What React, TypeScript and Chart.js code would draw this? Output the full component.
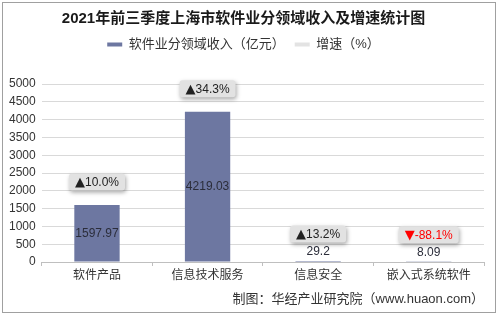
import React, { useEffect, useRef } from "react";
import { Chart, registerables } from "chart.js";

Chart.register(...registerables);

const titleText = "2021年前三季度上海市软件业分领域收入及增速统计图";
const sourceText = "制图：华经产业研究院（www.huaon.com）";
const categories = ["软件产品", "信息技术服务", "信息安全", "嵌入式系统软件"];
const revenue = [1597.97, 4219.03, 29.2, 8.09];
const growth = [10.0, 34.3, 13.2, -88.1];
const revenueLabel = "软件业分领域收入（亿元）";
const growthLabel = "增速（%）";
const yMin = 0;
const yMax = 5000;
const yStep = 500;

const FONT = "'Liberation Sans', 'Noto Sans CJK SC', sans-serif";
const BAR_COLOR = "#6d77a1";
const GROWTH_COLOR = "#e3e3e3";

const legendSpacer = {
  id: "legendSpacer",
  beforeInit(chart: any) {
    const legend = chart.legend;
    const orig = legend.fit;
    legend.fit = function () {
      orig.call(this);
      this.height += 23;
    };
  },
};

const labelPlugin = {
  id: "valueLabels",
  afterDatasetsDraw(chart: any) {
    const ctx = chart.ctx;
    const meta = chart.getDatasetMeta(0);
    ctx.save();
    meta.data.forEach((el: any, i: number) => {
      const x = el.x;
      const y = el.y;
      const base = el.base;
      const h = base - y;
      ctx.font = `12px ${FONT}`;
      ctx.textAlign = "center";
      ctx.textBaseline = "middle";
      ctx.fillStyle = "#2b2d3a";
      const valText = String(revenue[i]);
      let boxY: number;
      if (h > 30) {
        ctx.fillText(valText, x, (y + base) / 2);
        boxY = y - 23;
      } else {
        const ly = y - 9;
        ctx.fillText(valText, x, ly);
        boxY = ly - 18;
      }
      const g = growth[i];
      const neg = g < 0;
      const tri = neg ? "▼" : "▲";
      const num = g.toFixed(1) + "%";
      ctx.font = `13px 'DejaVu Sans', sans-serif`;
      const tw = ctx.measureText(tri).width;
      ctx.font = `12px ${FONT}`;
      const nw = ctx.measureText(num).width;
      const w = tw + nw + 12;
      const bh = 17;
      ctx.save();
      ctx.shadowColor = "rgba(0,0,0,0.35)";
      ctx.shadowBlur = 4;
      ctx.shadowOffsetX = 1;
      ctx.shadowOffsetY = 2;
      ctx.fillStyle = "#e2e2e2";
      ctx.beginPath();
      (ctx as any).roundRect(x - w / 2, boxY - bh / 2, w, bh, 3);
      ctx.fill();
      ctx.restore();
      const color = neg ? "#ff0000" : "#222222";
      ctx.fillStyle = color;
      ctx.textAlign = "left";
      const startX = x - (tw + nw) / 2;
      ctx.font = `13px 'DejaVu Sans', sans-serif`;
      ctx.fillText(tri, startX, boxY + 1);
      ctx.font = `12px ${FONT}`;
      ctx.fillText(num, startX + tw, boxY + 1);
    });
    ctx.restore();
  },
};

export default function App() {
  const ref = useRef<HTMLCanvasElement>(null);
  useEffect(() => {
    document.body.style.margin = "0";
    const chart = new Chart(ref.current!, {
      type: "bar",
      data: {
        labels: categories,
        datasets: [
          {
            type: "bar",
            label: revenueLabel,
            data: revenue,
            backgroundColor: BAR_COLOR,
            barPercentage: 0.41,
            categoryPercentage: 1,
            yAxisID: "y",
          },
          {
            type: "line",
            label: growthLabel,
            data: growth,
            borderColor: GROWTH_COLOR,
            backgroundColor: GROWTH_COLOR,
            showLine: false,
            pointRadius: 0,
            yAxisID: "y1",
          } as any,
        ],
      },
      options: {
        animation: false,
        responsive: false,
        layout: { padding: { left: 0, right: 11, top: 0, bottom: 3 } },
        plugins: {
          tooltip: { enabled: false },
          title: {
            display: true,
            text: titleText,
            color: "#1a1a1a",
            font: { family: FONT, size: 15, weight: "bold" },
            padding: { top: 7, bottom: 0 },
          },
          legend: {
            display: true,
            labels: {
              color: "#333333",
              font: { family: FONT, size: 13 },
              boxWidth: 15,
              boxHeight: 4,
              padding: 10,
              generateLabels: (chart: any) =>
                chart.data.datasets.map((ds: any, i: number) => ({
                  text: ds.label,
                  fillStyle: i === 0 ? BAR_COLOR : GROWTH_COLOR,
                  strokeStyle: i === 0 ? BAR_COLOR : GROWTH_COLOR,
                  lineWidth: 0,
                  datasetIndex: i,
                  fontColor: "#333333",
                })),
            },
          },
          subtitle: {
            display: true,
            position: "bottom",
            align: "end",
            text: sourceText,
            color: "#333333",
            font: { family: FONT, size: 13 },
            padding: { top: 7, bottom: 2 },
          },
        },
        scales: {
          x: {
            grid: { display: true, drawOnChartArea: false, offset: true, tickLength: 4, color: "#bfbfbf" },
            border: { color: "#bfbfbf" },
            ticks: { color: "#333333", font: { family: FONT, size: 12 }, padding: 2 },
          },
          y: {
            min: yMin,
            max: yMax,
            ticks: {
              stepSize: yStep,
              color: "#333333",
              font: { family: FONT, size: 12 },
              padding: 6,
              callback: (v: any) => String(v),
            },
            grid: { color: "#d9d9d9", drawTicks: false },
            border: { display: false },
          },
          y1: {
            display: false,
            min: -100,
            max: 100,
          },
        },
      },
      plugins: [labelPlugin, legendSpacer],
    });
    return () => chart.destroy();
  }, []);
  return (
    <div style={{ width: 499, height: 314, background: "#ffffff", position: "relative" }}>
      <div
        style={{
          position: "absolute",
          left: 2,
          top: 2,
          width: 494,
          height: 311,
          boxSizing: "border-box",
          border: "1px solid #a0a0a0",
        }}
      >
        <canvas ref={ref} width={492} height={309} style={{ display: "block" }} />
      </div>
    </div>
  );
}
